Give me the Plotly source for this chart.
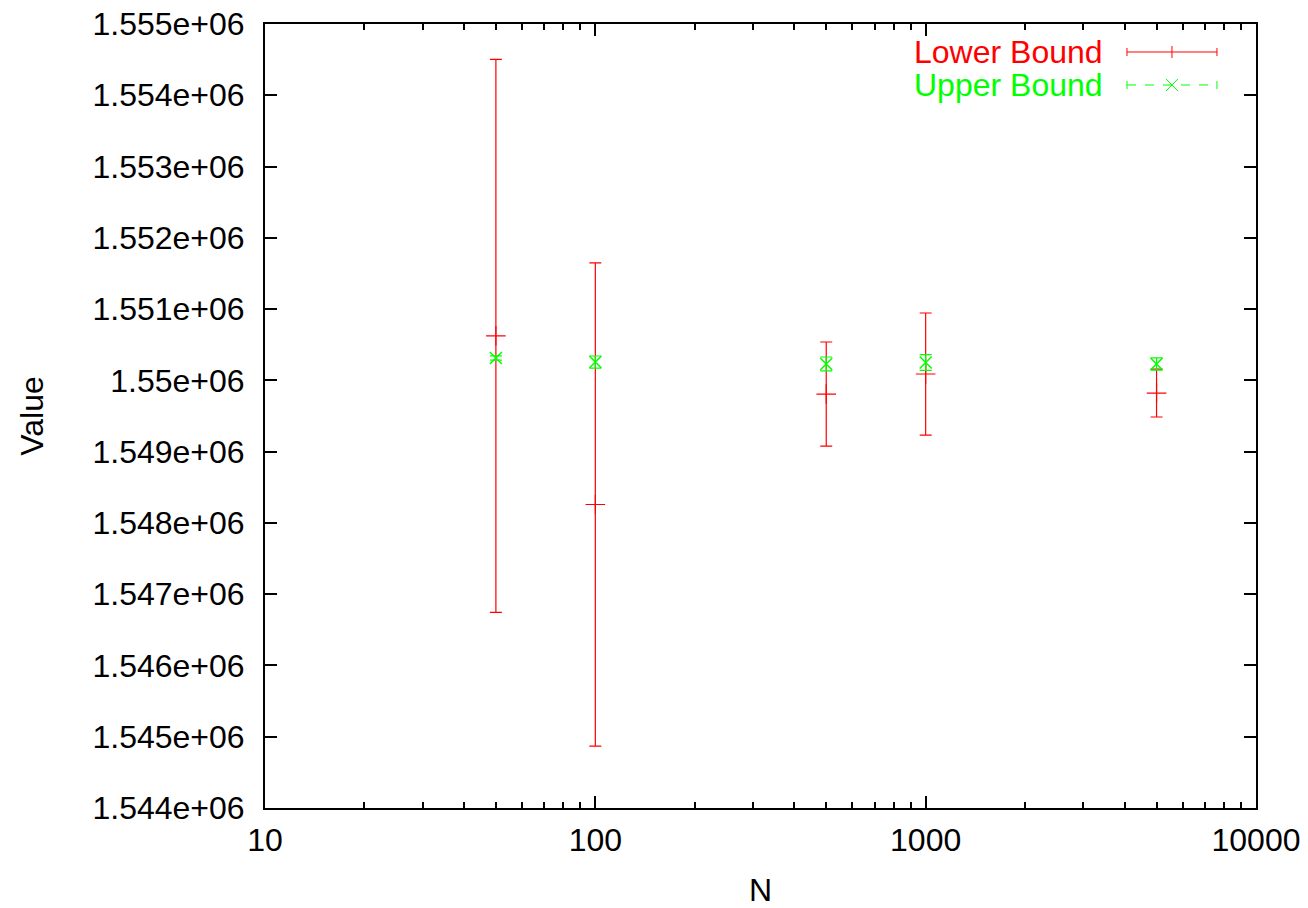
import plotly.graph_objects as go

# Data
N = [50, 100, 500, 1000, 5000]
lower_value = [1550625, 1548258, 1549808, 1550089, 1549822]
lower_err = [3880, 3390, 730, 856, 336]
upper_value = [1550314, 1550257, 1550230, 1550250, 1550230]
upper_err = [30, 85, 98, 110, 85]

x_ticks = [10, 100, 1000, 10000]
x_ticktext = ["10", "100", "1000", "10000"]
y_ticks = [1544000 + 1000 * i for i in range(12)]
y_ticktext = ["1.544e+06", "1.545e+06", "1.546e+06", "1.547e+06", "1.548e+06", "1.549e+06",
              "1.55e+06", "1.551e+06", "1.552e+06", "1.553e+06", "1.554e+06", "1.555e+06"]

RED = "#ff0000"
GREEN = "#00ff00"
FONT = "Liberation Sans, Arial, Helvetica, sans-serif"
FS = 32

fig = go.Figure()
fig.add_trace(go.Scatter(
    x=N, y=lower_value, mode="markers", name="Lower Bound",
    marker=dict(symbol="cross-thin", size=14, color=RED, line=dict(width=1.2, color=RED)),
    error_y=dict(type="data", array=lower_err, visible=True, color=RED, thickness=1.2, width=6),
    showlegend=False,
))
fig.add_trace(go.Scatter(
    x=N, y=upper_value, mode="markers", name="Upper Bound",
    marker=dict(symbol="x-thin", size=12, color=GREEN, line=dict(width=1.5, color=GREEN)),
    error_y=dict(type="data", array=upper_err, visible=True, color=GREEN, thickness=1.2, width=6),
    showlegend=False,
))

# Manual gnuplot-style legend (text left, sample right)
shapes = []
annotations = []
rows = [("Lower Bound", RED, 0.9643, "solid", "plus"), ("Upper Bound", GREEN, 0.9222, "dash", "x")]
x0, x1, xc = 0.8698, 0.9606, 0.9152
for label, col, yy, dash, mk in rows:
    annotations.append(dict(text=label, x=0.8476, y=yy, xref="paper", yref="paper",
                            xanchor="right", yanchor="middle", showarrow=False,
                            font=dict(family=FONT, size=FS, color=col)))
    shapes.append(dict(type="line", xref="paper", yref="paper", x0=x0, x1=x1, y0=yy, y1=yy,
                       line=dict(color=col, width=1, dash=dash)))
    for xe in (x0, x1):
        shapes.append(dict(type="line", xref="paper", yref="paper", x0=xe, x1=xe,
                           y0=yy - 0.0051, y1=yy + 0.0051, line=dict(color=col, width=1)))
    if mk == "plus":
        shapes.append(dict(type="line", xref="paper", yref="paper", x0=xc, x1=xc,
                           y0=yy - 0.0077, y1=yy + 0.0077, line=dict(color=col, width=1)))
    else:
        shapes.append(dict(type="line", xref="paper", yref="paper", x0=xc - 0.006, x1=xc + 0.006,
                           y0=yy - 0.0077, y1=yy + 0.0077, line=dict(color=col, width=1)))
        shapes.append(dict(type="line", xref="paper", yref="paper", x0=xc - 0.006, x1=xc + 0.006,
                           y0=yy + 0.0077, y1=yy - 0.0077, line=dict(color=col, width=1)))

fig.update_layout(
    width=1308, height=908,
    margin=dict(l=265, r=52, t=24, b=100),
    paper_bgcolor="white", plot_bgcolor="white",
    font=dict(family=FONT, size=FS, color="black"),
    shapes=shapes, annotations=annotations,
    showlegend=False,
)
fig.update_xaxes(
    type="log", range=[1, 4], automargin=False,
    tickvals=x_ticks, ticktext=x_ticktext,
    ticks="inside", ticklen=12, tickwidth=1.5, tickcolor="black",
    minor=dict(ticks="inside", ticklen=6, tickwidth=1.5, tickcolor="black", dtick="D1", showgrid=False),
    showline=True, linecolor="black", linewidth=2, mirror="ticks",
    showgrid=False, zeroline=False, ticklabelstandoff=3, ticklabeloverflow="allow",
    title=dict(text="N", font=dict(size=FS), standoff=21),
    tickfont=dict(size=FS),
)
fig.update_yaxes(
    range=[1544000, 1555000], automargin=False,
    tickvals=y_ticks, ticktext=y_ticktext,
    ticks="inside", ticklen=12, tickwidth=1.5, tickcolor="black",
    showline=True, linecolor="black", linewidth=2, mirror="ticks",
    showgrid=False, zeroline=False, ticklabelstandoff=12, ticklabeloverflow="allow",
    title=dict(text="Value", font=dict(size=FS), standoff=39),
    tickfont=dict(size=FS),
)

fig.write_html(
    "out.html",
    config={"displayModeBar": False},
    post_script="document.body.style.margin='0';document.body.style.overflow='hidden';",
)
